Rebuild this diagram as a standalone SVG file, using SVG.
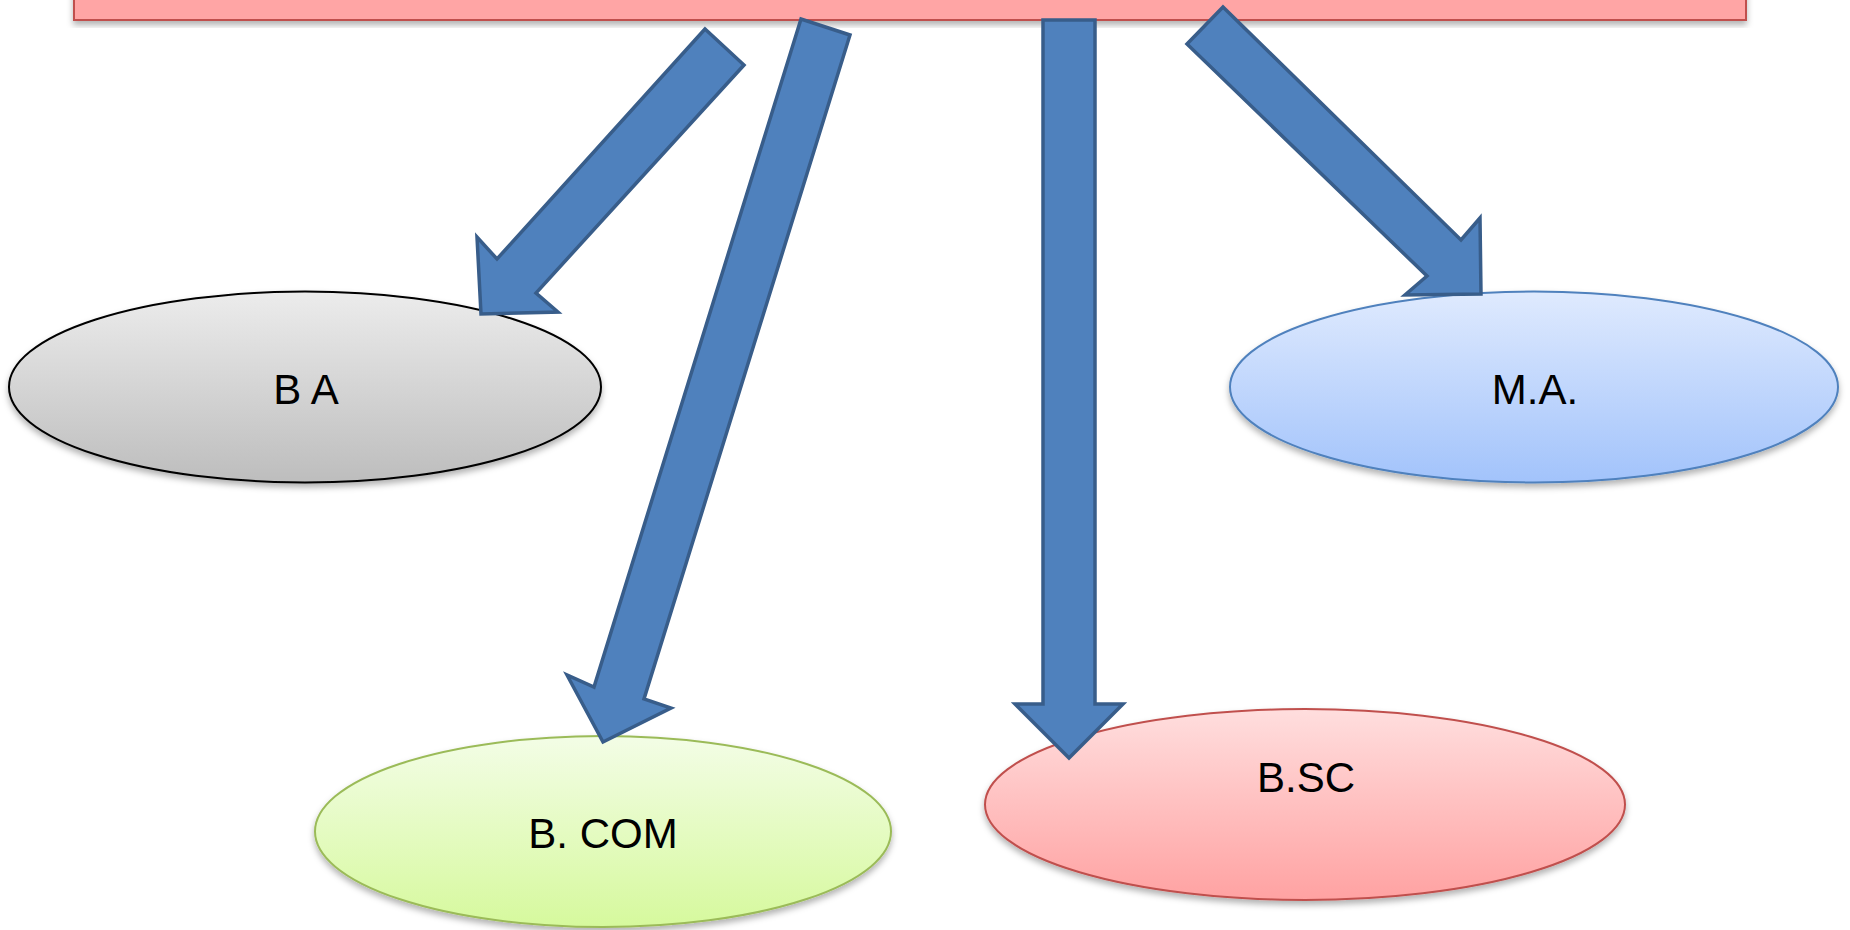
<svg xmlns="http://www.w3.org/2000/svg" width="1850" height="930" viewBox="0 0 1850 930">
<style>
.lbl{font-family:"Liberation Sans",Arial,sans-serif;font-size:42px;fill:#000;text-anchor:middle}
.arrow{fill:#4f81bd;stroke:#385d8a;stroke-width:3.5;stroke-linejoin:miter}
</style>
<defs>
<filter id="sh" x="-10%" y="-10%" width="120%" height="130%">
<feDropShadow dx="0" dy="4" stdDeviation="3" flood-color="#000" flood-opacity="0.3"/>
</filter>
<linearGradient id="gGray" x1="0" y1="0" x2="0" y2="1"><stop offset="0" stop-color="#ececec"/><stop offset="1" stop-color="#bdbdbd"/></linearGradient>
<linearGradient id="gGreen" x1="0" y1="0" x2="0" y2="1"><stop offset="0" stop-color="#f3fde6"/><stop offset="1" stop-color="#d6f99d"/></linearGradient>
<linearGradient id="gRed" x1="0" y1="0" x2="0" y2="1"><stop offset="0" stop-color="#ffdede"/><stop offset="1" stop-color="#ffa2a2"/></linearGradient>
<linearGradient id="gBlue" x1="0" y1="0" x2="0" y2="1"><stop offset="0" stop-color="#dfeafe"/><stop offset="1" stop-color="#a2c3fb"/></linearGradient>
</defs>
<rect width="1850" height="930" fill="#fff"/>
<g id="top">
<rect x="74" y="-20" width="1672" height="40" fill="#ffa5a5" stroke="#c0504d" stroke-width="2" filter="url(#sh)"/>
</g>
<g id="ba">
<ellipse cx="305" cy="387" rx="296" ry="95.5" fill="url(#gGray)" stroke="#000" stroke-width="2" filter="url(#sh)"/>
<text class="lbl" x="306" y="404">B A</text>
</g>
<g id="ma">
<ellipse cx="1534" cy="387" rx="304" ry="95.5" fill="url(#gBlue)" stroke="#4f81bd" stroke-width="2" filter="url(#sh)"/>
<text class="lbl" x="1535" y="404">M.A.</text>
</g>
<g id="bcom">
<ellipse cx="603" cy="831.5" rx="288" ry="95.5" fill="url(#gGreen)" stroke="#9bbb59" stroke-width="2" filter="url(#sh)"/>
<text class="lbl" x="603" y="848">B. COM</text>
</g>
<g id="bsc">
<ellipse cx="1305" cy="804.5" rx="320" ry="95.5" fill="url(#gRed)" stroke="#c0504d" stroke-width="2" filter="url(#sh)"/>
<text class="lbl" x="1306" y="792">B.SC</text>
</g>
<g id="connectors">
<polygon class="arrow" points="705,29 497,259 477,237 481,314 558,312 536,293 744,65"/>
<polygon class="arrow" points="801,19 594,687 567,675 603,742 671,708 644,699 850,35"/>
<polygon class="arrow" points="1043,20 1043,704 1015,704 1069,758 1123,704 1095,704 1095,20"/>
<polygon class="arrow" points="1223,7 1461,240 1480,218 1481,294 1405,295 1427,276 1187,44"/>
</g>
</svg>
